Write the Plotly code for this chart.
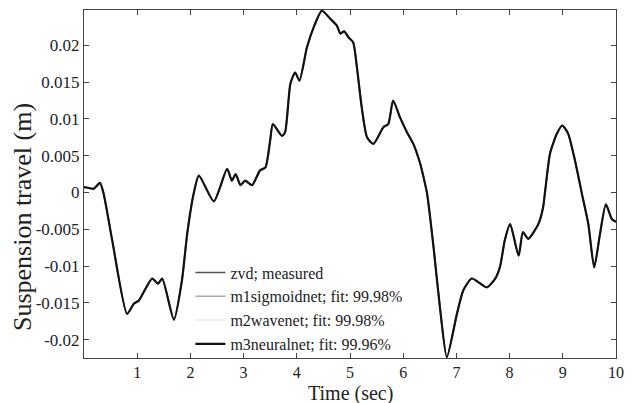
import plotly.graph_objects as go

time_s = [0.0, 0.03, 0.18, 0.30, 0.37, 0.53, 0.81, 0.94, 1.03, 1.28, 1.39, 1.47, 1.69, 1.84, 1.94,
          2.06, 2.16, 2.44, 2.69, 2.78, 2.85, 2.94, 3.03, 3.16, 3.31, 3.41, 3.50, 3.55, 3.72, 3.78,
          3.88, 3.97, 4.05, 4.19, 4.32, 4.47, 4.63, 4.75, 4.82, 4.89, 4.97, 5.06, 5.13, 5.22, 5.32,
          5.44, 5.63, 5.72, 5.81, 5.94, 6.07, 6.19, 6.32, 6.41, 6.45, 6.57, 6.69, 6.82, 7.01, 7.13,
          7.29, 7.57, 7.73, 7.82, 7.91, 8.01, 8.17, 8.25, 8.35, 8.54, 8.63, 8.67, 8.76, 8.89, 8.99,
          9.10, 9.23, 9.36, 9.48, 9.59, 9.70, 9.81, 9.92, 10.0]
measured = [0.0007, 0.0007, 0.0005, 0.0013, -0.0002, -0.0065, -0.0165, -0.0151, -0.0147, -0.0117,
            -0.0124, -0.0117, -0.0173, -0.012, -0.0056, -0.0002, 0.0023, -0.0012, 0.0032, 0.0016,
            0.0025, 0.0010, 0.0016, 0.0010, 0.0030, 0.0034, 0.0071, 0.0093, 0.0077, 0.0082,
            0.0148, 0.0163, 0.0152, 0.0197, 0.0225, 0.0247, 0.0236, 0.0227, 0.0216, 0.0219,
            0.0211, 0.0204, 0.017, 0.0116, 0.0075, 0.0066, 0.0089, 0.0093, 0.0125, 0.0102,
            0.0082, 0.0066, 0.0039, 0.0012, -0.0002, -0.0074, -0.0156, -0.0224, -0.0165, -0.0133,
            -0.0117, -0.0129, -0.0117, -0.0101, -0.0065, -0.0043, -0.0086, -0.0054, -0.0063, -0.0043,
            -0.002, 0.0003, 0.0053, 0.0080, 0.0091, 0.0080, 0.0043, -0.0002, -0.0043, -0.0102,
            -0.0056, -0.0016, -0.0036, -0.004]
m1_sigmoidnet = list(measured)
m2_wavenet = list(measured)
m3_neuralnet = list(measured)

series_names = ["zvd; measured", "m1sigmoidnet; fit: 99.98%", "m2wavenet; fit: 99.98%", "m3neuralnet; fit: 99.96%"]
x_ticks = [1, 2, 3, 4, 5, 6, 7, 8, 9, 10]
y_ticks = [-0.02, -0.015, -0.01, -0.005, 0, 0.005, 0.01, 0.015, 0.02]
y_tick_labels = ["-0.02", "-0.015", "-0.01", "-0.005", "0", "0.005", "0.01", "0.015", "0.02"]
x_title = "Time (sec)"
y_title = "Suspension travel (m)"

styles = [("#555555", 1.5), ("#aaaaaa", 1.5), ("#dddddd", 1.2), ("#111111", 2.2)]
data = [measured, m1_sigmoidnet, m2_wavenet, m3_neuralnet]

fig = go.Figure()
for name, ys, (col, w) in zip(series_names, data, styles):
    fig.add_trace(go.Scatter(x=time_s, y=ys, mode="lines", name=name,
                             line=dict(color=col, width=w, shape="spline", smoothing=0.6)))

font = "Liberation Serif, Times New Roman, serif"
fig.update_layout(
    width=632, height=403,
    margin=dict(l=84, r=16, t=10, b=45),
    paper_bgcolor="white", plot_bgcolor="white",
    font=dict(family=font, size=17, color="#222222"),
    showlegend=True,
    legend=dict(x=0.2, y=-0.01, xanchor="left", yanchor="bottom",
                bgcolor="rgba(255,255,255,0)", font=dict(family=font, size=16, color="#222222"),
                tracegroupgap=0, itemwidth=30),
    xaxis=dict(range=[0, 10], tickvals=x_ticks, ticks="inside", ticklen=5, tickcolor="#444444",
               tickfont=dict(size=16), automargin=False, ticklabelstandoff=0,
               showline=True, linecolor="#444444", linewidth=1, mirror="ticks", showgrid=False,
               zeroline=False),
    yaxis=dict(range=[-0.0225, 0.0248], tickvals=y_ticks, ticktext=y_tick_labels, ticks="inside",
               ticklen=5, tickcolor="#444444", showline=True, linecolor="#444444", linewidth=1,
               tickfont=dict(size=17), automargin=False,
               mirror="ticks", showgrid=False, zeroline=False),
    annotations=[
        dict(text=x_title, xref="paper", yref="paper", x=0.5, y=-0.063, xanchor="center",
             yanchor="top", showarrow=False, font=dict(size=20, family=font, color="#222222")),
        dict(text=y_title, xref="paper", yref="paper", x=-0.1165, y=0.405, xanchor="center",
             yanchor="middle", textangle=-90, showarrow=False,
             font=dict(size=26, family=font, color="#222222")),
    ],
)
fig.write_html("out.html")
